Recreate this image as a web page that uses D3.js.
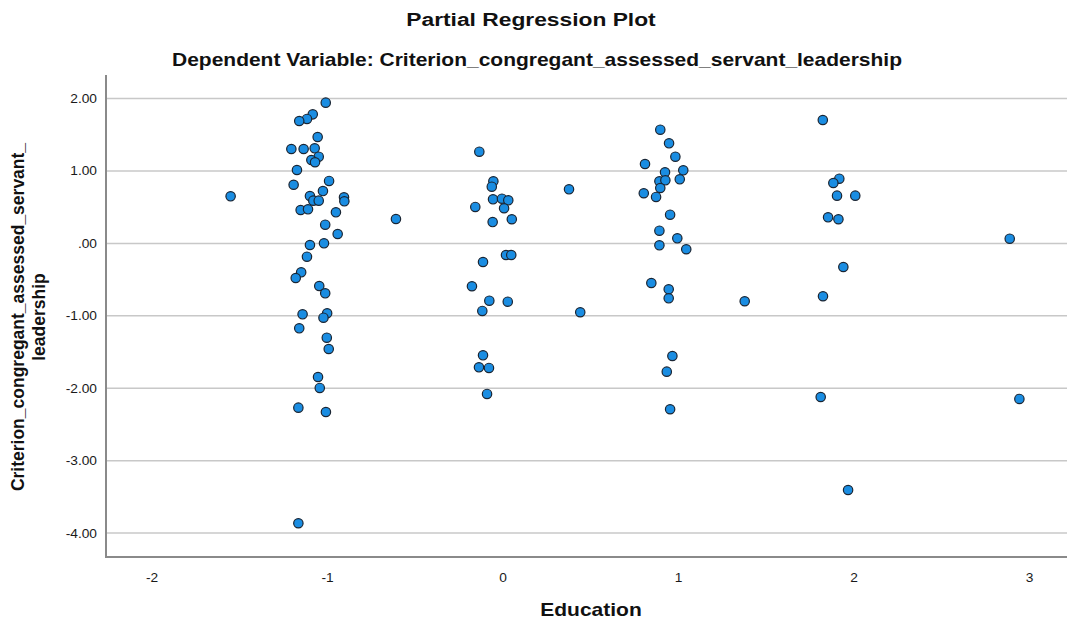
<!DOCTYPE html>
<html lang="en">
<head>
<meta charset="UTF-8">
<title>Partial Regression Plot</title>
<script src="https://d3js.org/d3.v7.min.js"></script>
<style>
  body { margin: 0; background: #fff; }
  svg text { font-family: "Liberation Sans", Arial, sans-serif; }
  .grid line { stroke: #c8c8c8; stroke-width: 1.5px; }
  .tick-label { font-size: 12.5px; fill: #1a1a1a; }
  .title { font-size: 19px; font-weight: bold; fill: #111; }
  .axis-title { font-size: 17.5px; font-weight: bold; fill: #111; }
  .dot { fill: #1a8de2; stroke: #1a2533; stroke-width: 1.2px; }
</style>
</head>
<body>
<svg width="1067" height="624"></svg>
<script>
// Education residuals (x) and criterion residuals (y)
const educationX = [
  -1.010, -1.084, -1.117, -1.161, -1.056, -1.206, -1.136, -1.073, -1.050, -1.092,
  -1.071, -1.174, -0.991, -1.193, -1.026, -1.100, -0.906, -0.904, -1.081, -1.050,
  -1.153, -1.111, -0.952, -1.013, -0.942, -1.100, -1.020, -1.117, -1.150, -1.181,
  -1.047, -1.013, -1.142, -1.002, -1.023, -1.161, -1.004, -0.993, -1.054, -1.044,
  -1.166, -1.009, -1.166, -1.552, -0.610,
  -0.135, -0.055, -0.064, -0.057, -0.006, 0.030, -0.158, 0.006, -0.059, 0.050,
  0.017, 0.047, -0.114, -0.177, -0.078, 0.027, -0.118, -0.114, -0.137, -0.080,
  -0.091, 0.376, 0.440,
  0.896, 0.946, 0.982, 0.809, 1.027, 0.923, 0.891, 0.925, 1.007, 0.896,
  0.802, 0.872, 0.952, 0.891, 0.993, 0.891, 1.044, 0.845, 0.944, 0.944,
  1.377, 0.965, 0.933, 0.952,
  1.822, 1.916, 1.882, 1.903, 2.007, 1.852, 1.911, 1.939, 1.823, 1.810, 1.966,
  2.887, 2.942
];
const criterionY = [
  1.943, 1.782, 1.718, 1.690, 1.469, 1.303, 1.303, 1.313, 1.197, 1.151,
  1.120, 1.013, 0.862, 0.810, 0.723, 0.654, 0.636, 0.581, 0.590, 0.590,
  0.461, 0.471, 0.429, 0.258, 0.130, -0.022, 0.001, -0.184, -0.399, -0.478,
  -0.588, -0.689, -0.979, -0.965, -1.026, -1.172, -1.302, -1.458, -1.845, -1.996,
  -2.268, -2.328, -3.864, 0.650, 0.337,
  1.266, 0.857, 0.783, 0.609, 0.617, 0.595, 0.503, 0.485, 0.295, 0.333,
  -0.160, -0.160, -0.257, -0.592, -0.791, -0.805, -0.933, -1.545, -1.711, -1.720,
  -2.079, 0.747, -0.951,
  1.570, 1.382, 1.197, 1.096, 1.009, 0.982, 0.857, 0.871, 0.885, 0.765,
  0.692, 0.641, 0.396, 0.175, 0.070, -0.026, -0.081, -0.547, -0.634, -0.758,
  -0.799, -1.555, -1.771, -2.290,
  1.704, 0.893, 0.834, 0.659, 0.659, 0.360, 0.333, -0.326, -0.730, -2.121, -3.405,
  0.065, -2.148
];
const xTicks = [-2, -1, 0, 1, 2, 3];
const yTicks = [2, 1, 0, -1, -2, -3, -4];
const yTickLabels = ["2.00", "1.00", ".00", "-1.00", "-2.00", "-3.00", "-4.00"];

const svg = d3.select("svg");
const plotLeft = 106, plotRight = 1068, plotTop = 75, plotBottom = 557;
const stretch = 1.2; // the original picture is a bit wider than it is tall

const x = d3.scaleLinear().domain([-2.262, 3.219]).range([plotLeft, plotRight]);
const y = d3.scaleLinear().domain([-4.33, 2.325]).range([plotBottom, plotTop]);

// horizontal text, widened like the source picture
function label(cls, px, py, anchor, txt, sx) {
  return svg.append("text").attr("class", cls)
    .attr("transform", `translate(${px},${py}) scale(${sx || stretch},1)`)
    .attr("text-anchor", anchor)
    .text(txt);
}

// horizontal gridlines
svg.append("g").attr("class", "grid")
  .selectAll("line")
  .data(yTicks)
  .enter().append("line")
  .attr("x1", plotLeft).attr("x2", plotRight)
  .attr("y1", d => y(d)).attr("y2", d => y(d));

// y tick labels
yTicks.forEach((d, i) => {
  label("tick-label", plotLeft - 9, y(d) + 4.5, "end", yTickLabels[i], 1.1);
});

// x tick labels
xTicks.forEach(d => {
  label("tick-label", x(d), plotBottom + 25, "middle", String(d), 1.1);
});

// axis lines
svg.append("path")
  .attr("d", `M${plotLeft},${plotTop}V${plotBottom}H${plotRight}`)
  .attr("fill", "none")
  .attr("stroke", "#8a8a8a")
  .attr("stroke-width", 2);

// points
svg.append("g")
  .selectAll("circle")
  .data(educationX.map((v, i) => [v, criterionY[i]]))
  .enter().append("circle")
  .attr("class", "dot")
  .attr("r", 4.7)
  .attr("cx", d => x(d[0]))
  .attr("cy", d => y(d[1]));

// titles
label("title", 531, 26, "middle", "Partial Regression Plot");
label("axis-title", 537, 66, "middle",
  "Dependent Variable: Criterion_congregant_assessed_servant_leadership");
label("axis-title", 591, 616, "middle", "Education");

const yl = svg.append("text").attr("class", "axis-title")
  .attr("transform", "translate(0,317) rotate(-90)")
  .attr("text-anchor", "middle");
yl.append("tspan").attr("x", 0).attr("y", 24).text("Criterion_congregant_assessed_servant_");
yl.append("tspan").attr("x", 0).attr("y", 45).text("leadership");
</script>
</body>
</html>
